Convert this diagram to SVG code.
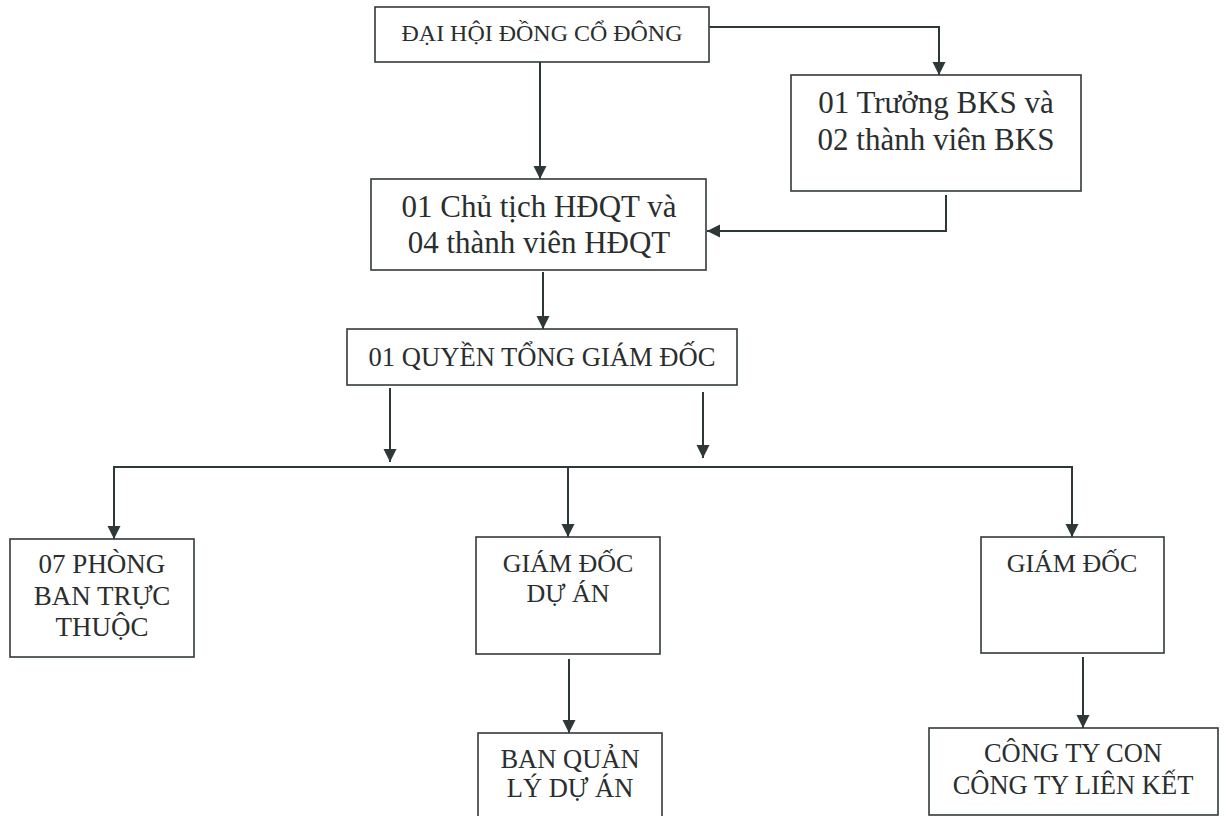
<svg xmlns="http://www.w3.org/2000/svg" width="1226" height="816" viewBox="0 0 1226 816">
<style>
.box{fill:none;stroke:#333a3a;stroke-width:1.6}
.ln{fill:none;stroke:#2f3838;stroke-width:2}
.t{font-family:"Liberation Serif","Times New Roman",serif;fill:#2a2e2e;text-anchor:middle}
</style>
<defs>
<marker id="ah" markerUnits="userSpaceOnUse" markerWidth="14" markerHeight="14" viewBox="0 0 14 14" refX="13" refY="7" orient="auto">
<path d="M0,0.5 L13,7 L0,13.5 Z" fill="#2f3838"/>
</marker>
</defs>
<rect width="1226" height="816" fill="#ffffff"/>
<g id="connectors">
<path class="ln" d="M540,62 V179" marker-end="url(#ah)"/>
<path class="ln" d="M709,27 H939 V75" marker-end="url(#ah)"/>
<path class="ln" d="M946,195 V232"/>
<path class="ln" d="M946,231 H707" marker-end="url(#ah)"/>
<path class="ln" d="M543,272 V329" marker-end="url(#ah)"/>
<path class="ln" d="M390,388 V462" marker-end="url(#ah)"/>
<path class="ln" d="M703,392 V458" marker-end="url(#ah)"/>
<path class="ln" d="M114,539 V467 H1072 V537" marker-end="url(#ah)"/>
<path class="ln" d="M114,467 V539" marker-end="url(#ah)"/>
<path class="ln" d="M568,467 V537" marker-end="url(#ah)"/>
<path class="ln" d="M569,659 V733" marker-end="url(#ah)"/>
<path class="ln" d="M1083,657 V728" marker-end="url(#ah)"/>
</g>
<g id="dhdcd">
<rect class="box" x="375" y="7" width="334" height="55"/>
<text class="t" x="542" y="41" font-size="24" textLength="281" lengthAdjust="spacingAndGlyphs">ĐẠI HỘI ĐỒNG CỔ ĐÔNG</text>
</g>
<g id="bks">
<rect class="box" x="791" y="75" width="290" height="116"/>
<text class="t" x="936" y="113" font-size="31">01 Trưởng BKS và</text>
<text class="t" x="936" y="150" font-size="31">02 thành viên BKS</text>
</g>
<g id="hdqt">
<rect class="box" x="371" y="179" width="335" height="91"/>
<text class="t" x="539" y="217" font-size="31">01 Chủ tịch HĐQT và</text>
<text class="t" x="539" y="253" font-size="31">04 thành viên HĐQT</text>
</g>
<g id="tgd">
<rect class="box" x="347" y="329" width="390" height="56"/>
<text class="t" x="542" y="366" font-size="26.5" textLength="347" lengthAdjust="spacingAndGlyphs">01 QUYỀN TỔNG GIÁM ĐỐC</text>
</g>
<g id="phongban">
<rect class="box" x="10" y="539" width="184" height="118"/>
<text class="t" x="102" y="573" font-size="27">07 PHÒNG</text>
<text class="t" x="102" y="605" font-size="27">BAN TRỰC</text>
<text class="t" x="102" y="636" font-size="27">THUỘC</text>
</g>
<g id="gddA">
<rect class="box" x="476" y="537" width="184" height="117"/>
<text class="t" x="568" y="572" font-size="26">GIÁM ĐỐC</text>
<text class="t" x="568" y="602" font-size="26">DỰ ÁN</text>
</g>
<g id="gd">
<rect class="box" x="981" y="537" width="183" height="116"/>
<text class="t" x="1072" y="572" font-size="26">GIÁM ĐỐC</text>
</g>
<g id="bqlda">
<rect class="box" x="478" y="733" width="184" height="90"/>
<text class="t" x="570" y="768" font-size="26.5">BAN QUẢN</text>
<text class="t" x="570" y="797" font-size="26.5">LÝ DỰ ÁN</text>
</g>
<g id="congty">
<rect class="box" x="929" y="728" width="289" height="87"/>
<text class="t" x="1073" y="762" font-size="26.5">CÔNG TY CON</text>
<text class="t" x="1073" y="794" font-size="26.5">CÔNG TY LIÊN KẾT</text>
</g>
</svg>
